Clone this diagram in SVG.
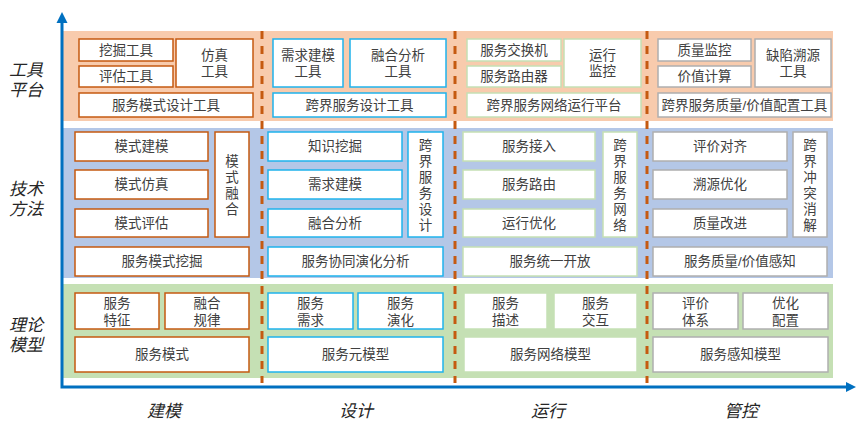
<svg xmlns="http://www.w3.org/2000/svg" width="863" height="437" viewBox="0 0 863 437">
<style>
text{font-family:"Liberation Sans","Noto Sans CJK SC",sans-serif;fill:#404040;font-size:13.5px;text-anchor:middle;dominant-baseline:central}
.lab{font-size:17px;font-style:italic;fill:#262626}
rect.b{fill:#fff;stroke-width:1.5}
.c1 rect{stroke:#C55A11}
.c2 rect{stroke:#1FB3EC}
.c3 rect{stroke:#C5E0B4}
.c4 rect{stroke:#AFAFAF}
.dash{stroke:#C55A11;stroke-width:3;stroke-dasharray:8 7;fill:none}
.axis{stroke:#0070C0;stroke-width:3;fill:none}
</style>
<!-- bands -->
<rect x="63" y="31" width="770" height="90" fill="#F8CBAD"/>
<rect x="63" y="128" width="770" height="150" fill="#B4C7E7"/>
<rect x="63" y="284" width="770" height="94" fill="#C5E0B4"/>

<!-- Top band: 工具平台 -->
<g class="c1">
<g id="t_wajue"><rect class="b" x="79" y="39" width="94" height="22"/><text x="126" y="50">挖掘工具</text></g>
<g id="t_pinggu"><rect class="b" x="79" y="66" width="94" height="21"/><text x="126" y="76.5">评估工具</text></g>
<g id="t_fangzhen"><rect class="b" x="176" y="39" width="77" height="48"/><text><tspan x="214.5" y="55">仿真</tspan><tspan x="214.5" y="71">工具</tspan></text></g>
<g id="t_fwmssj"><rect class="b" x="79" y="93" width="174" height="24"/><text x="166" y="105">服务模式设计工具</text></g>
</g>
<g class="c2">
<g id="t_xqjm"><rect class="b" x="273" y="39" width="70" height="48"/><text><tspan x="308" y="55">需求建模</tspan><tspan x="308" y="71">工具</tspan></text></g>
<g id="t_rhfx"><rect class="b" x="350" y="39" width="96" height="48"/><text><tspan x="398" y="55">融合分析</tspan><tspan x="398" y="71">工具</tspan></text></g>
<g id="t_kjfwsj"><rect class="b" x="273" y="93" width="173" height="24"/><text x="359.5" y="105">跨界服务设计工具</text></g>
</g>
<g class="c3">
<g id="t_jhj"><rect class="b" x="467" y="39" width="94" height="22"/><text x="514" y="50">服务交换机</text></g>
<g id="t_lyq"><rect class="b" x="467" y="66" width="94" height="21"/><text x="514" y="76.5">服务路由器</text></g>
<g id="t_yxjk"><rect class="b" x="564" y="39" width="77" height="48"/><text><tspan x="602.5" y="55">运行</tspan><tspan x="602.5" y="71">监控</tspan></text></g>
<g id="t_wlyxpt"><rect class="b" x="467" y="93" width="174" height="24"/><text x="554" y="105">跨界服务网络运行平台</text></g>
</g>
<g class="c4">
<g id="t_zljk"><rect class="b" x="658" y="39" width="93" height="22"/><text x="704.5" y="50">质量监控</text></g>
<g id="t_jzjs"><rect class="b" x="658" y="66" width="93" height="21"/><text x="704.5" y="76.5">价值计算</text></g>
<g id="t_qxsy"><rect class="b" x="755" y="39" width="76" height="48"/><text><tspan x="793" y="55">缺陷溯源</tspan><tspan x="793" y="71">工具</tspan></text></g>
<g id="t_zlpz"><rect class="b" x="658" y="93" width="173" height="24"/><text x="744.5" y="105">跨界服务质量/价值配置工具</text></g>
</g>

<!-- Middle band: 技术方法 -->
<g class="c1">
<g id="m_msjm"><rect class="b" x="75" y="132" width="133" height="29"/><text x="141.5" y="146.5">模式建模</text></g>
<g id="m_msfz"><rect class="b" x="75" y="170" width="133" height="29"/><text x="141.5" y="184.5">模式仿真</text></g>
<g id="m_mspg"><rect class="b" x="75" y="209" width="133" height="28"/><text x="141.5" y="223">模式评估</text></g>
<g id="m_msrh"><rect class="b" x="215" y="132" width="34" height="105"/><text><tspan x="232" y="160.5">模</tspan><tspan x="232" y="176.5">式</tspan><tspan x="232" y="192.5">融</tspan><tspan x="232" y="208.5">合</tspan></text></g>
<g id="m_fwmswj"><rect class="b" x="75" y="247" width="174" height="29"/><text x="162" y="261.5">服务模式挖掘</text></g>
</g>
<g class="c2">
<g id="m_zswj"><rect class="b" x="268" y="132" width="134" height="29"/><text x="335" y="146.5">知识挖掘</text></g>
<g id="m_xqjm"><rect class="b" x="268" y="170" width="134" height="29"/><text x="335" y="184.5">需求建模</text></g>
<g id="m_rhfx"><rect class="b" x="268" y="209" width="134" height="28"/><text x="335" y="223">融合分析</text></g>
<g id="m_kjfwsj"><rect class="b" x="408" y="132" width="35" height="105"/><text><tspan x="425.5" y="144.5">跨</tspan><tspan x="425.5" y="160.5">界</tspan><tspan x="425.5" y="176.5">服</tspan><tspan x="425.5" y="192.5">务</tspan><tspan x="425.5" y="208.5">设</tspan><tspan x="425.5" y="224.5">计</tspan></text></g>
<g id="m_xtyh"><rect class="b" x="268" y="247" width="175" height="29"/><text x="355.5" y="261.5">服务协同演化分析</text></g>
</g>
<g class="c3">
<g id="m_fwjr"><rect class="b" x="463" y="132" width="132" height="29"/><text x="529" y="146.5">服务接入</text></g>
<g id="m_fwly"><rect class="b" x="463" y="170" width="132" height="29"/><text x="529" y="184.5">服务路由</text></g>
<g id="m_yxyh"><rect class="b" x="463" y="209" width="132" height="28"/><text x="529" y="223">运行优化</text></g>
<g id="m_kjfwwl"><rect class="b" x="603" y="132" width="34" height="105"/><text><tspan x="620" y="144.5">跨</tspan><tspan x="620" y="160.5">界</tspan><tspan x="620" y="176.5">服</tspan><tspan x="620" y="192.5">务</tspan><tspan x="620" y="208.5">网</tspan><tspan x="620" y="224.5">络</tspan></text></g>
<g id="m_tykf"><rect class="b" x="463" y="247" width="174" height="29"/><text x="550" y="261.5">服务统一开放</text></g>
</g>
<g class="c4">
<g id="m_pjdq"><rect class="b" x="653" y="132" width="134" height="29"/><text x="720" y="146.5">评价对齐</text></g>
<g id="m_syyh"><rect class="b" x="653" y="170" width="134" height="29"/><text x="720" y="184.5">溯源优化</text></g>
<g id="m_zlgj"><rect class="b" x="653" y="209" width="134" height="28"/><text x="720" y="223">质量改进</text></g>
<g id="m_kjct"><rect class="b" x="793" y="132" width="34" height="105"/><text><tspan x="810" y="144.5">跨</tspan><tspan x="810" y="160.5">界</tspan><tspan x="810" y="176.5">冲</tspan><tspan x="810" y="192.5">突</tspan><tspan x="810" y="208.5">消</tspan><tspan x="810" y="224.5">解</tspan></text></g>
<g id="m_zlgz"><rect class="b" x="653" y="247" width="174" height="29"/><text x="740" y="261.5">服务质量/价值感知</text></g>
</g>

<!-- Bottom band: 理论模型 -->
<g class="c1">
<g id="b_fwtz"><rect class="b" x="75" y="293" width="84" height="36"/><text><tspan x="117" y="303">服务</tspan><tspan x="117" y="319.5">特征</tspan></text></g>
<g id="b_rhgl"><rect class="b" x="165" y="293" width="84" height="36"/><text><tspan x="207" y="303">融合</tspan><tspan x="207" y="319.5">规律</tspan></text></g>
<g id="b_fwms"><rect class="b" x="75" y="337" width="174" height="35"/><text x="162" y="354.5">服务模式</text></g>
</g>
<g class="c2">
<g id="b_fwxq"><rect class="b" x="268" y="293" width="85" height="36"/><text><tspan x="310.5" y="303">服务</tspan><tspan x="310.5" y="319.5">需求</tspan></text></g>
<g id="b_fwyh"><rect class="b" x="358" y="293" width="85" height="36"/><text><tspan x="400.5" y="303">服务</tspan><tspan x="400.5" y="319.5">演化</tspan></text></g>
<g id="b_fwymx"><rect class="b" x="268" y="337" width="175" height="35"/><text x="355.5" y="354.5">服务元模型</text></g>
</g>
<g class="c3">
<g id="b_fwms2"><rect class="b" x="464" y="293" width="83" height="36"/><text><tspan x="505.5" y="303">服务</tspan><tspan x="505.5" y="319.5">描述</tspan></text></g>
<g id="b_fwjh"><rect class="b" x="554" y="293" width="83" height="36"/><text><tspan x="595.5" y="303">服务</tspan><tspan x="595.5" y="319.5">交互</tspan></text></g>
<g id="b_fwwlmx"><rect class="b" x="464" y="337" width="173" height="35"/><text x="550.5" y="354.5">服务网络模型</text></g>
</g>
<g class="c4">
<g id="b_pjtx"><rect class="b" x="653" y="293" width="85" height="36"/><text><tspan x="695.5" y="303">评价</tspan><tspan x="695.5" y="319.5">体系</tspan></text></g>
<g id="b_yhpz"><rect class="b" x="743" y="293" width="85" height="36"/><text><tspan x="785.5" y="303">优化</tspan><tspan x="785.5" y="319.5">配置</tspan></text></g>
<g id="b_fwgzmx"><rect class="b" x="653" y="337" width="175" height="35"/><text x="740.5" y="354.5">服务感知模型</text></g>
</g>

<!-- dividers and axes -->
<g id="connectors">
<line class="dash" x1="262" y1="31" x2="262" y2="383"/>
<line class="dash" x1="455" y1="31" x2="455" y2="383"/>
<line class="dash" x1="647" y1="31" x2="647" y2="383"/>
<polyline class="axis" points="62,22 62,387 848,387"/>
<polygon points="62,12 56.5,23 67.5,23" fill="#0070C0"/>
<polygon points="856,387 846,382 846,392" fill="#0070C0"/>
</g>

<!-- labels -->
<g id="labels">
<text class="lab"><tspan x="26" y="70">工具</tspan><tspan x="26" y="90">平台</tspan></text>
<text class="lab"><tspan x="26" y="189">技术</tspan><tspan x="26" y="209">方法</tspan></text>
<text class="lab"><tspan x="26" y="325">理论</tspan><tspan x="26" y="345">模型</tspan></text>
<text class="lab" x="164" y="411">建模</text>
<text class="lab" x="356" y="411">设计</text>
<text class="lab" x="548" y="411">运行</text>
<text class="lab" x="741" y="411">管控</text>
</g>
</svg>
